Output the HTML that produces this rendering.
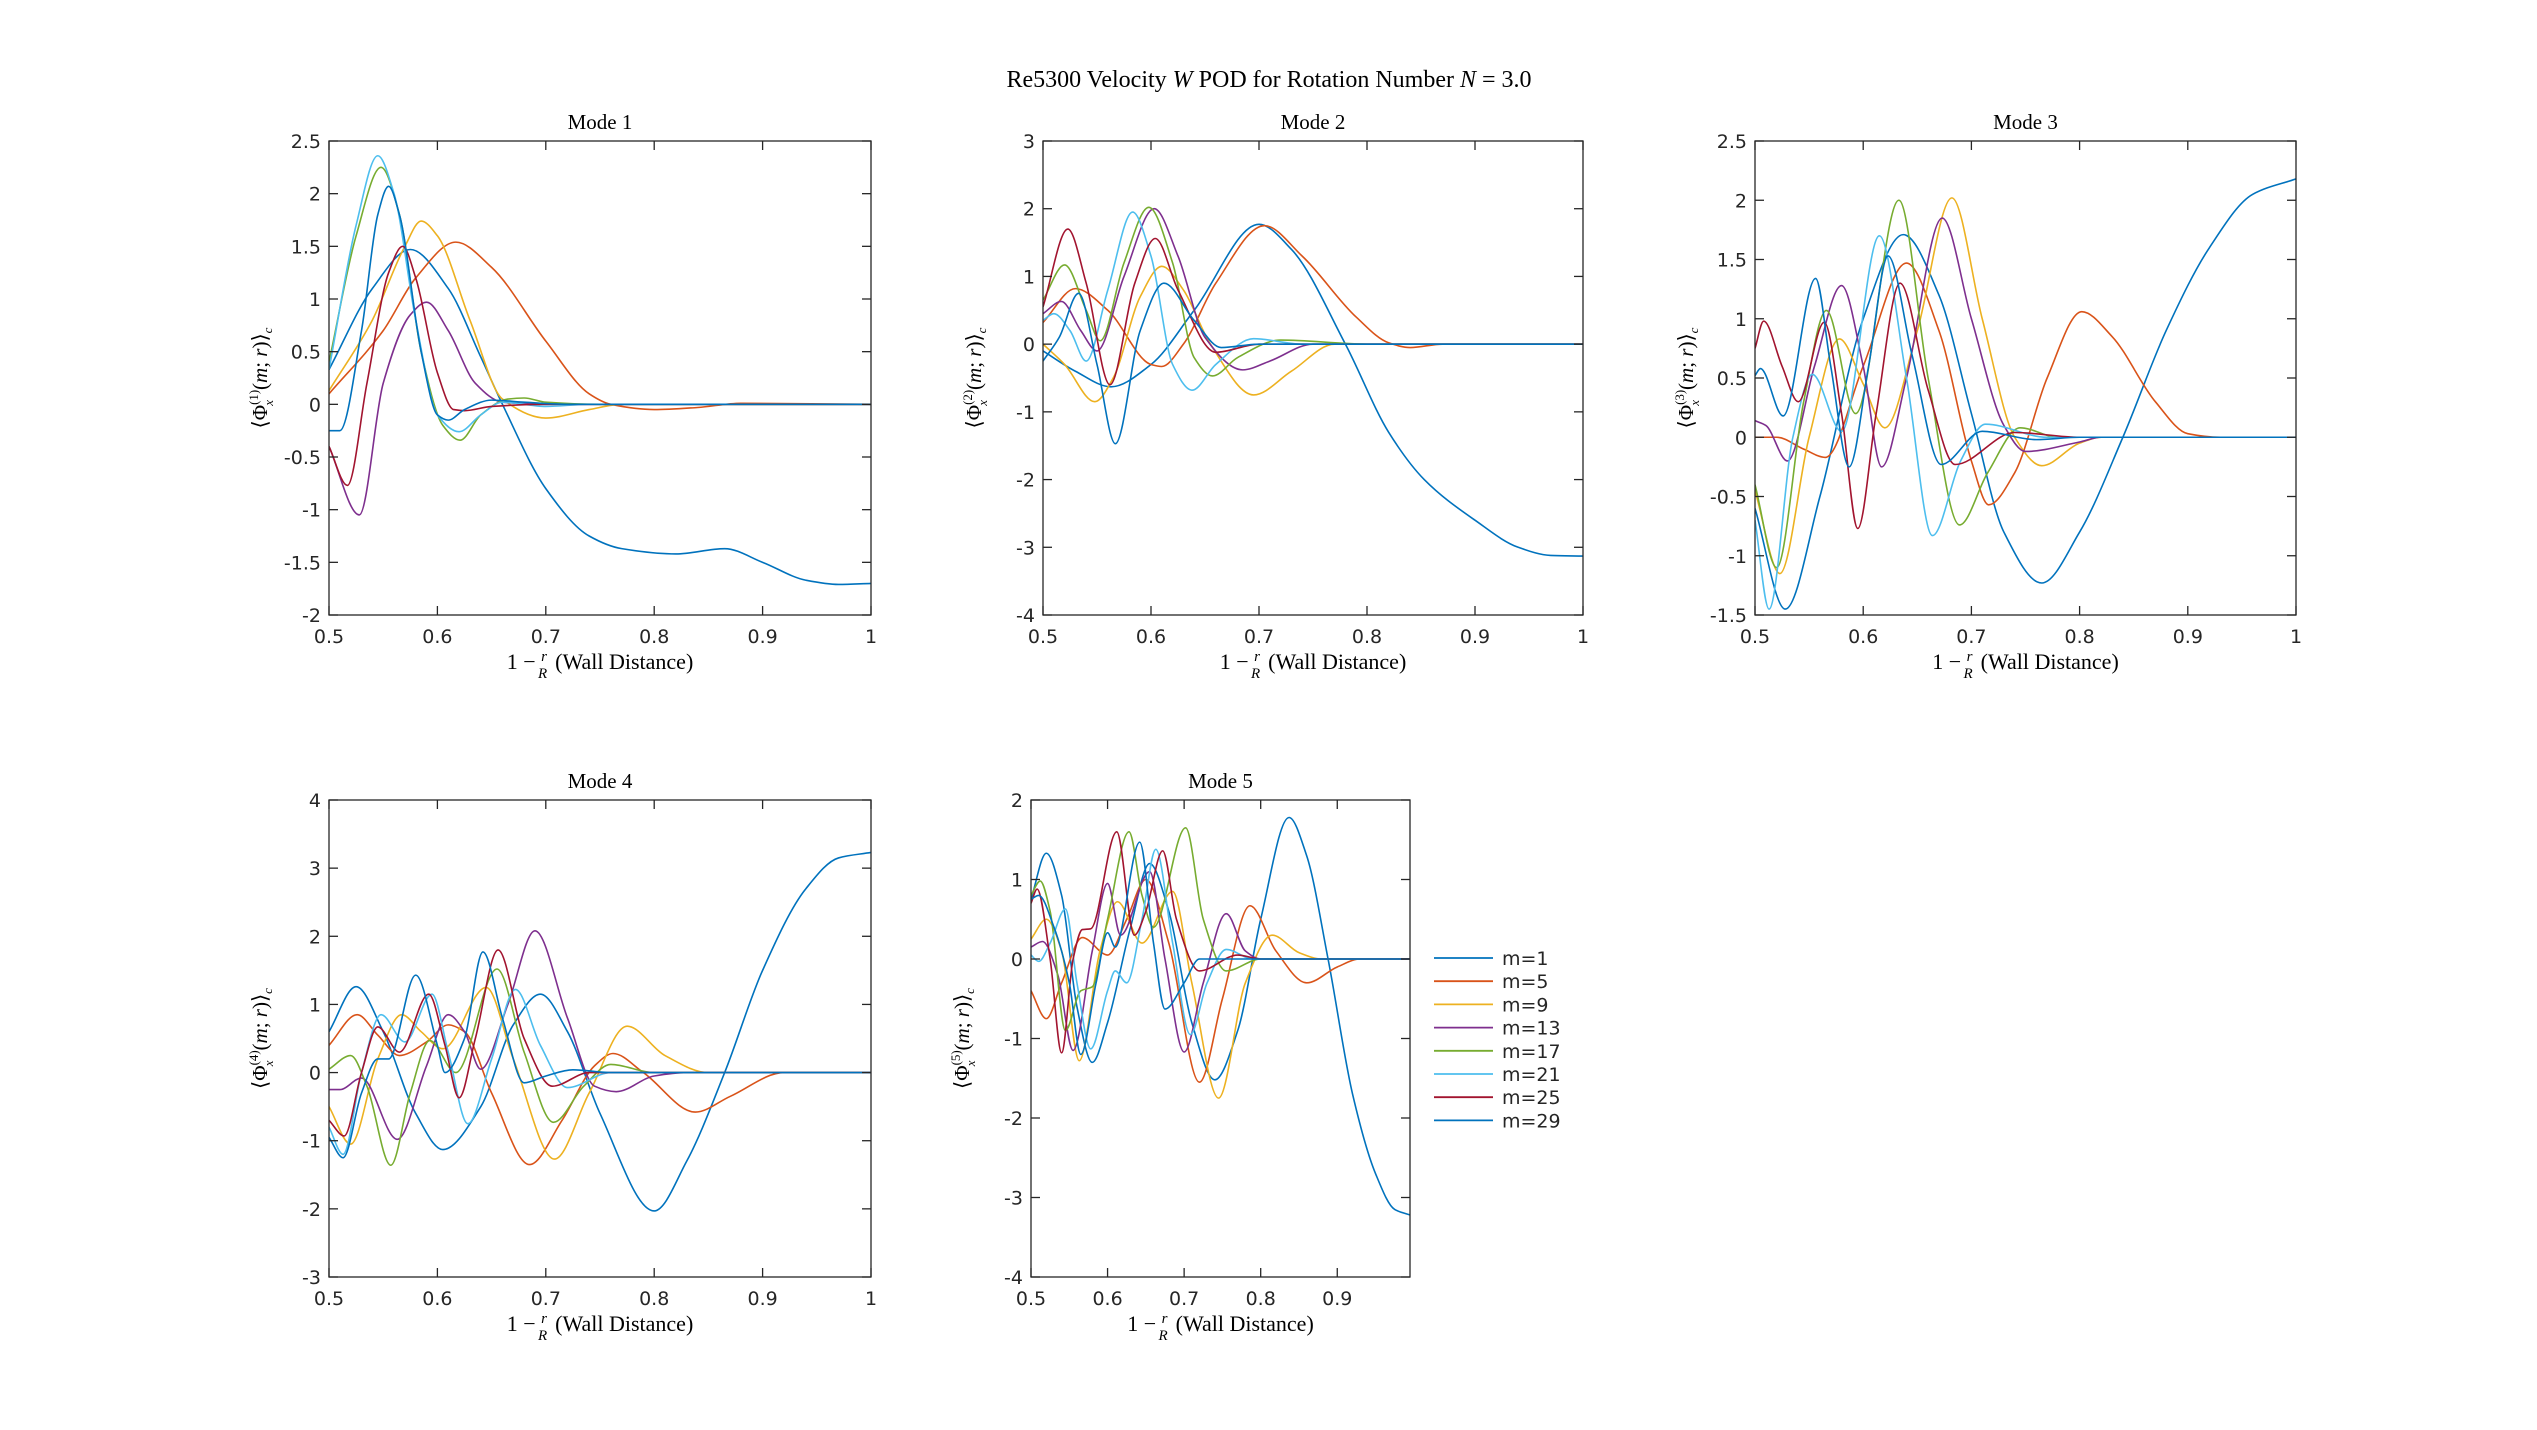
<!DOCTYPE html>
<html><head><meta charset="utf-8">
<style>
html,body{margin:0;padding:0;background:#fff;}
svg{display:block;}
text{fill:#262626;}
.tk{font-family:"DejaVu Sans","Liberation Sans",sans-serif;font-size:19px;}
.sr{font-family:"Liberation Serif",serif;fill:#000;}
</style></head>
<body>
<svg id="fig" width="2537" height="1430" viewBox="0 0 2537 1430" xmlns="http://www.w3.org/2000/svg">
<rect width="2537" height="1430" fill="#fff"/>
<text class="sr" x="1269" y="87" font-size="24" text-anchor="middle">Re5300 Velocity <tspan font-style="italic">W</tspan> POD for Rotation Number <tspan font-style="italic">N</tspan> = 3.0</text>
</svg>
<script>
const seriesNames = ["m=1","m=5","m=9","m=13","m=17","m=21","m=25","m=29"];
const colors = ["#0072BD","#D95319","#EDB120","#7E2F8E","#77AC30","#4DBEEE","#A2142F","#0072BD"];
const modeTitles = ["Mode 1","Mode 2","Mode 3","Mode 4","Mode 5"];
const yTicks1 = [-2,-1.5,-1,-0.5,0,0.5,1,1.5,2,2.5];
const yTicks2 = [-4,-3,-2,-1,0,1,2,3];
const yTicks3 = [-1.5,-1,-0.5,0,0.5,1,1.5,2,2.5];
const yTicks4 = [-3,-2,-1,0,1,2,3,4];
const yTicks5 = [-4,-3,-2,-1,0,1,2];
const xTicksFull = [0.5,0.6,0.7,0.8,0.9,1];
const xTicks5 = [0.5,0.6,0.7,0.8,0.9];

// Mode 1 series
const mode1_m1 = [[0.5,0.33],[0.54,1.1],[0.575,1.47],[0.61,1.1],[0.64,0.45],[0.66,0],[0.7,-0.8],[0.74,-1.25],[0.77,-1.37],[0.82,-1.42],[0.865,-1.37],[0.9,-1.5],[0.94,-1.67],[0.97,-1.71],[1,-1.7]];
const mode1_m5 = [[0.5,0.1],[0.55,0.7],[0.58,1.2],[0.617,1.54],[0.65,1.3],[0.7,0.6],[0.74,0.1],[0.76,0],[0.8,-0.05],[0.84,-0.03],[0.88,0.01],[1,0]];
const mode1_m9 = [[0.5,0.13],[0.54,0.8],[0.57,1.5],[0.585,1.74],[0.6,1.6],[0.63,0.8],[0.66,0.05],[0.7,-0.13],[0.74,-0.05],[0.77,0],[1,0]];
const mode1_m13 = [[0.5,-0.4],[0.528,-1.05],[0.55,0.2],[0.575,0.85],[0.59,0.97],[0.61,0.7],[0.635,0.2],[0.66,0.02],[0.7,0],[1,0]];
const mode1_m17 = [[0.5,0.4],[0.525,1.6],[0.548,2.25],[0.565,1.8],[0.585,0.5],[0.605,-0.2],[0.621,-0.34],[0.64,-0.1],[0.665,0.05],[0.68,0.06],[0.7,0.02],[0.75,0],[1,0]];
const mode1_m21 = [[0.5,0.33],[0.525,1.7],[0.545,2.36],[0.56,2.0],[0.58,0.8],[0.6,-0.1],[0.62,-0.26],[0.64,-0.1],[0.66,0.02],[0.7,-0.02],[0.74,0],[1,0]];
const mode1_m25 = [[0.5,-0.4],[0.517,-0.77],[0.535,0.2],[0.555,1.25],[0.568,1.5],[0.58,1.2],[0.6,0.3],[0.615,-0.05],[0.625,-0.06],[0.65,-0.02],[0.7,0],[1,0]];
const mode1_m29 = [[0.5,-0.25],[0.51,-0.25],[0.53,0.7],[0.545,1.8],[0.555,2.07],[0.565,1.8],[0.585,0.5],[0.6,-0.1],[0.61,-0.15],[0.625,-0.05],[0.65,0.04],[0.68,0.02],[0.72,0],[1,0]];

// Mode 2 series
const mode2_m1 = [[0.5,-0.1],[0.53,-0.4],[0.563,-0.63],[0.6,-0.3],[0.64,0.5],[0.7,1.77],[0.73,1.4],[0.78,0],[0.82,-1.3],[0.853,-2],[0.9,-2.6],[0.94,-3.0],[0.97,-3.12],[1,-3.13]];
const mode2_m5 = [[0.5,0.32],[0.53,0.82],[0.56,0.5],[0.6,-0.3],[0.61,-0.33],[0.63,0],[0.66,0.9],[0.705,1.75],[0.74,1.3],[0.79,0.4],[0.82,0.02],[0.84,-0.05],[0.87,0],[1,0]];
const mode2_m9 = [[0.5,0],[0.52,-0.3],[0.548,-0.85],[0.565,-0.5],[0.59,0.7],[0.61,1.15],[0.63,0.8],[0.655,0],[0.695,-0.75],[0.73,-0.4],[0.77,0],[1,0]];
const mode2_m13 = [[0.5,0.45],[0.517,0.63],[0.535,0.2],[0.55,-0.1],[0.575,1.0],[0.603,2.0],[0.625,1.3],[0.65,0.1],[0.685,-0.38],[0.71,-0.25],[0.75,0],[1,0]];
const mode2_m17 = [[0.5,0.65],[0.52,1.17],[0.54,0.5],[0.553,0.05],[0.575,1.2],[0.598,2.02],[0.62,1.2],[0.64,-0.2],[0.657,-0.47],[0.68,-0.2],[0.72,0.06],[0.8,0],[1,0]];
const mode2_m21 = [[0.5,0.35],[0.51,0.45],[0.525,0.2],[0.54,-0.25],[0.56,0.8],[0.583,1.95],[0.6,1.3],[0.62,-0.3],[0.638,-0.68],[0.66,-0.3],[0.695,0.08],[0.74,0],[1,0]];
const mode2_m25 = [[0.5,0.55],[0.523,1.7],[0.54,0.9],[0.562,-0.6],[0.585,0.9],[0.604,1.56],[0.625,0.8],[0.66,-0.12],[0.7,0],[1,0]];
const mode2_m29 = [[0.5,-0.25],[0.515,0.1],[0.533,0.75],[0.55,-0.3],[0.567,-1.47],[0.59,0.2],[0.612,0.9],[0.64,0.35],[0.665,-0.05],[0.7,0],[1,0]];

// Mode 3 series
const mode3_m1 = [[0.5,-0.6],[0.528,-1.45],[0.56,-0.5],[0.6,1.0],[0.637,1.71],[0.67,1.2],[0.7,0.2],[0.73,-0.8],[0.765,-1.23],[0.8,-0.8],[0.84,0],[0.88,0.9],[0.92,1.6],[0.96,2.05],[1,2.18]];
const mode3_m5 = [[0.5,0],[0.52,0],[0.545,-0.1],[0.565,-0.17],[0.6,0.6],[0.64,1.47],[0.67,0.9],[0.7,-0.2],[0.716,-0.57],[0.74,-0.3],[0.77,0.5],[0.802,1.06],[0.83,0.85],[0.87,0.3],[0.9,0.03],[0.93,0],[1,0]];
const mode3_m9 = [[0.5,-0.45],[0.523,-1.15],[0.55,0],[0.578,0.83],[0.6,0.45],[0.62,0.08],[0.65,0.9],[0.682,2.02],[0.71,1.0],[0.74,0],[0.765,-0.24],[0.8,-0.05],[0.82,0],[1,0]];
const mode3_m13 = [[0.5,0.14],[0.51,0.1],[0.53,-0.2],[0.555,0.6],[0.58,1.28],[0.6,0.6],[0.617,-0.25],[0.64,0.5],[0.673,1.85],[0.7,1.0],[0.73,0.1],[0.75,-0.12],[0.8,-0.04],[0.82,0],[1,0]];
const mode3_m17 = [[0.5,-0.4],[0.52,-1.1],[0.545,0.3],[0.566,1.07],[0.593,0.2],[0.633,2.0],[0.66,0.5],[0.689,-0.74],[0.715,-0.3],[0.745,0.08],[0.78,0],[1,0]];
const mode3_m21 = [[0.5,-0.7],[0.513,-1.45],[0.535,0],[0.553,0.53],[0.58,0.05],[0.615,1.7],[0.64,0.5],[0.664,-0.83],[0.69,-0.2],[0.713,0.11],[0.77,0],[1,0]];
const mode3_m25 = [[0.5,0.75],[0.508,0.98],[0.525,0.6],[0.54,0.3],[0.564,0.97],[0.58,0.2],[0.595,-0.77],[0.612,0.2],[0.634,1.3],[0.66,0.4],[0.685,-0.23],[0.74,0.04],[0.8,0],[1,0]];
const mode3_m29 = [[0.5,0.52],[0.505,0.58],[0.526,0.18],[0.556,1.34],[0.57,0.6],[0.587,-0.25],[0.605,0.6],[0.623,1.53],[0.645,0.7],[0.672,-0.23],[0.71,0.05],[0.76,-0.02],[0.8,0],[1,0]];

// Mode 4 series
const mode4_m1 = [[0.5,0.6],[0.525,1.26],[0.55,0.6],[0.58,-0.6],[0.605,-1.13],[0.64,-0.5],[0.67,0.7],[0.695,1.15],[0.72,0.6],[0.75,-0.6],[0.8,-2.03],[0.83,-1.3],[0.865,0],[0.9,1.5],[0.94,2.7],[0.97,3.15],[1,3.23]];
const mode4_m5 = [[0.5,0.4],[0.526,0.85],[0.545,0.55],[0.565,0.25],[0.59,0.45],[0.61,0.7],[0.625,0.6],[0.65,-0.3],[0.685,-1.35],[0.715,-0.7],[0.745,0.1],[0.762,0.28],[0.79,0],[0.838,-0.58],[0.87,-0.35],[0.92,0],[1,0]];
const mode4_m9 = [[0.5,-0.5],[0.52,-1.05],[0.545,0.2],[0.567,0.85],[0.585,0.6],[0.605,0.35],[0.645,1.25],[0.67,0.2],[0.708,-1.27],[0.74,-0.3],[0.775,0.68],[0.81,0.25],[0.85,0],[1,0]];
const mode4_m13 = [[0.5,-0.25],[0.51,-0.25],[0.53,-0.08],[0.563,-0.98],[0.59,0.1],[0.61,0.85],[0.625,0.6],[0.64,0.05],[0.665,1.0],[0.69,2.08],[0.72,0.8],[0.745,-0.2],[0.765,-0.28],[0.8,-0.05],[0.83,0],[1,0]];
const mode4_m17 = [[0.5,0.05],[0.52,0.25],[0.535,-0.2],[0.557,-1.36],[0.575,-0.3],[0.593,0.47],[0.617,0.0],[0.655,1.52],[0.68,0.3],[0.707,-0.73],[0.735,-0.2],[0.76,0.12],[0.8,0],[1,0]];
const mode4_m21 = [[0.5,-0.8],[0.513,-1.2],[0.53,0],[0.548,0.85],[0.57,0.45],[0.595,1.15],[0.61,0.3],[0.628,-0.75],[0.65,0.2],[0.672,1.22],[0.695,0.4],[0.72,-0.22],[0.76,0],[1,0]];
const mode4_m25 = [[0.5,-0.7],[0.514,-0.93],[0.53,0],[0.545,0.67],[0.565,0.3],[0.592,1.15],[0.607,0.4],[0.62,-0.37],[0.635,0.5],[0.656,1.8],[0.68,0.5],[0.706,-0.2],[0.74,0],[1,0]];
const mode4_m29 = [[0.5,-0.95],[0.513,-1.25],[0.53,-0.3],[0.545,0.2],[0.555,0.2],[0.58,1.43],[0.6,0.4],[0.607,0.0],[0.625,0.5],[0.642,1.77],[0.66,0.8],[0.68,-0.15],[0.7,-0.05],[0.725,0.04],[0.76,0],[1,0]];

// Mode 5 series
const mode5_m1 = [[0.5,0.75],[0.52,1.33],[0.54,0.8],[0.56,-0.6],[0.58,-1.3],[0.6,-0.8],[0.63,0.4],[0.655,1.2],[0.68,0.6],[0.71,-0.8],[0.74,-1.52],[0.77,-0.9],[0.8,0.5],[0.837,1.78],[0.86,1.3],[0.888,0],[0.92,-1.7],[0.95,-2.7],[0.975,-3.15],[0.995,-3.22]];
const mode5_m5 = [[0.5,-0.4],[0.52,-0.75],[0.54,-0.3],[0.567,0.27],[0.6,0.05],[0.625,0.5],[0.65,1.0],[0.68,0.2],[0.72,-1.55],[0.75,-0.5],[0.786,0.67],[0.82,0.1],[0.86,-0.3],[0.9,-0.1],[0.93,0],[0.995,0]];
const mode5_m9 = [[0.5,0.25],[0.52,0.5],[0.54,0.1],[0.563,-1.28],[0.59,0.1],[0.613,0.72],[0.645,0.2],[0.685,0.85],[0.71,-0.3],[0.745,-1.75],[0.78,-0.3],[0.815,0.3],[0.85,0.08],[0.88,0],[0.995,0]];
const mode5_m13 = [[0.5,0.15],[0.515,0.22],[0.535,-0.2],[0.555,-1.15],[0.58,0.1],[0.6,0.95],[0.617,0.3],[0.655,1.1],[0.675,0],[0.7,-1.17],[0.725,-0.3],[0.755,0.57],[0.78,0.1],[0.8,0],[0.995,0]];
const mode5_m17 = [[0.5,0.8],[0.512,0.98],[0.525,0.6],[0.545,-0.9],[0.565,-0.4],[0.58,-0.35],[0.6,0.5],[0.628,1.6],[0.645,0.8],[0.66,0.4],[0.702,1.65],[0.725,0.5],[0.755,-0.15],[0.8,0],[0.995,0]];
const mode5_m21 = [[0.5,0.05],[0.51,-0.03],[0.525,0.2],[0.545,0.63],[0.56,-0.3],[0.578,-1.13],[0.6,-0.4],[0.61,-0.15],[0.625,-0.3],[0.645,0.5],[0.663,1.38],[0.685,0.2],[0.708,-0.95],[0.73,-0.3],[0.755,0.12],[0.79,0],[0.995,0]];
const mode5_m25 = [[0.5,0.7],[0.508,0.88],[0.525,0],[0.54,-1.18],[0.555,0],[0.567,0.37],[0.578,0.38],[0.612,1.6],[0.635,0.3],[0.65,0.6],[0.672,1.36],[0.69,0.5],[0.72,-0.15],[0.77,0.05],[0.8,0],[0.995,0]];
const mode5_m29 = [[0.5,0.75],[0.51,0.8],[0.53,0.4],[0.55,-0.3],[0.565,-1.2],[0.585,-0.3],[0.6,0.33],[0.61,0.15],[0.642,1.47],[0.66,0.2],[0.675,-0.63],[0.7,-0.3],[0.72,0],[0.995,0]];

const modeData = [
  [mode1_m1,mode1_m5,mode1_m9,mode1_m13,mode1_m17,mode1_m21,mode1_m25,mode1_m29],
  [mode2_m1,mode2_m5,mode2_m9,mode2_m13,mode2_m17,mode2_m21,mode2_m25,mode2_m29],
  [mode3_m1,mode3_m5,mode3_m9,mode3_m13,mode3_m17,mode3_m21,mode3_m25,mode3_m29],
  [mode4_m1,mode4_m5,mode4_m9,mode4_m13,mode4_m17,mode4_m21,mode4_m25,mode4_m29],
  [mode5_m1,mode5_m5,mode5_m9,mode5_m13,mode5_m17,mode5_m21,mode5_m25,mode5_m29]
];
const yTickSets = [yTicks1,yTicks2,yTicks3,yTicks4,yTicks5];
const xTickSets = [xTicksFull,xTicksFull,xTicksFull,xTicksFull,xTicks5];
const xDomains = [[0.5,1],[0.5,1],[0.5,1],[0.5,1],[0.5,0.995]];

const layout = [
  {l:329,r:871,t:141,b:615},
  {l:1043,r:1583,t:141,b:615},
  {l:1755,r:2296,t:141,b:615},
  {l:329,r:871,t:800,b:1277},
  {l:1031,r:1410,t:800,b:1277}
];

const NS = "http://www.w3.org/2000/svg";
const svg = document.getElementById("fig");
function mk(tag, attrs, parent){
  const e = document.createElementNS(NS, tag);
  for (const k in attrs) e.setAttribute(k, attrs[k]);
  (parent||svg).appendChild(e);
  return e;
}
function monoPath(pts, sx, sy){
  const n = pts.length;
  const xs = pts.map(p=>sx(p[0])), ys = pts.map(p=>sy(p[1]));
  const d = [], m = new Array(n);
  for (let i=0;i<n-1;i++) d.push((ys[i+1]-ys[i])/(xs[i+1]-xs[i]));
  m[0]=d[0]; m[n-1]=d[n-2];
  for (let i=1;i<n-1;i++){
    if (d[i-1]*d[i]<=0) m[i]=0;
    else { const w1=2*(xs[i+1]-xs[i])+(xs[i]-xs[i-1]), w2=(xs[i+1]-xs[i])+2*(xs[i]-xs[i-1]);
      m[i]=(w1+w2)/(w1/d[i-1]+w2/d[i]); }
  }
  let s = "M"+xs[0].toFixed(2)+","+ys[0].toFixed(2);
  for (let i=0;i<n-1;i++){
    const h=(xs[i+1]-xs[i])/3;
    s += " C"+(xs[i]+h).toFixed(2)+","+(ys[i]+m[i]*h).toFixed(2)+" "+(xs[i+1]-h).toFixed(2)+","+(ys[i+1]-m[i+1]*h).toFixed(2)+" "+xs[i+1].toFixed(2)+","+ys[i+1].toFixed(2);
  }
  return s;
}
function fmt(v){ return String(v); }

layout.forEach((L, k) => {
  const yt = yTickSets[k], xt = xTickSets[k], xd = xDomains[k];
  const y0 = yt[0], y1 = yt[yt.length-1];
  const sx = v => L.l + (v - xd[0])/(xd[1]-xd[0])*(L.r-L.l);
  const sy = v => L.b - (v - y0)/(y1-y0)*(L.b-L.t);
  const g = mk("g", {});
  
  
  const clipId = "clip"+k;
  const cp = mk("clipPath", {id:clipId}, g);
  mk("rect", {x:L.l, y:L.t, width:L.r-L.l, height:L.b-L.t}, cp);
  const sg = mk("g", {"clip-path":"url(#"+clipId+")"}, g);
  modeData[k].forEach((pts, si) => {
    const p = mk("path", {d: monoPath(pts, sx, sy), fill:"none", stroke:colors[si], "stroke-width":"1.6", "stroke-linejoin":"round"}, sg);
    
    
  });
  const fr = mk("rect", {x:L.l, y:L.t, width:L.r-L.l, height:L.b-L.t, fill:"none", stroke:"#262626", "stroke-width":"1.3"}, g);
  
  
  const tl = 9;
  xt.forEach(v => {
    const x = sx(v);
    mk("line", {x1:x, x2:x, y1:L.b, y2:L.b-tl, stroke:"#262626", "stroke-width":"1.3"}, g);
    mk("line", {x1:x, x2:x, y1:L.t, y2:L.t+tl, stroke:"#262626", "stroke-width":"1.3"}, g);
    const t = mk("text", {x:x, y:L.b+28, "text-anchor":"middle", class:"tk"}, g);
    t.textContent = fmt(v);
    
    
  });
  yt.forEach(v => {
    const y = sy(v);
    mk("line", {x1:L.l, x2:L.l+tl, y1:y, y2:y, stroke:"#262626", "stroke-width":"1.3"}, g);
    mk("line", {x1:L.r, x2:L.r-tl, y1:y, y2:y, stroke:"#262626", "stroke-width":"1.3"}, g);
    const t = mk("text", {x:L.l-8, y:y+7, "text-anchor":"end", class:"tk"}, g);
    t.textContent = fmt(v);
    
    
  });
  const tt = mk("text", {x:(L.l+L.r)/2, y:L.t-12, "text-anchor":"middle", class:"sr", "font-size":"21"}, g);
  tt.textContent = modeTitles[k];
  
  
  const xl = mk("text", {x:(L.l+L.r)/2, y:L.b+54, "text-anchor":"middle", class:"sr", "font-size":"22"}, g);
  xl.innerHTML = '1 − <tspan font-style="italic" font-size="15" dy="-8">r</tspan><tspan font-style="italic" font-size="15" dx="-9" dy="17">R</tspan><tspan dy="-9" dx="8">(Wall Distance)</tspan>';
  
  
  // y label
  const cx = L.l-62, cy = (L.t+L.b)/2;
  const yl = mk("text", {x:cx, y:cy, "text-anchor":"middle", class:"sr", "font-size":"21", transform:"rotate(-90 "+cx+" "+cy+")"}, g);
  yl.innerHTML = '⟨Φ<tspan font-size="13" dy="-9">(' + (k+1) + ')</tspan><tspan font-size="13" font-style="italic" dx="-16" dy="15">x</tspan><tspan dx="10" dy="-6">(</tspan><tspan font-style="italic">m</tspan>; <tspan font-style="italic">r</tspan>)⟩<tspan font-size="13" font-style="italic" dy="5">c</tspan>';
  
  
});

const lg = mk("g", {});


seriesNames.forEach((nm, i) => {
  const y = 958 + i*23.2;
  const eg = mk("g", {}, lg);
  
  
  mk("line", {x1:1434, x2:1493, y1:y, y2:y, stroke:colors[i], "stroke-width":"1.8"}, eg);
  const t = mk("text", {x:1502, y:y+7, class:"tk", "font-size":"19"}, eg);
  t.textContent = nm;
});
</script>
</body></html>
